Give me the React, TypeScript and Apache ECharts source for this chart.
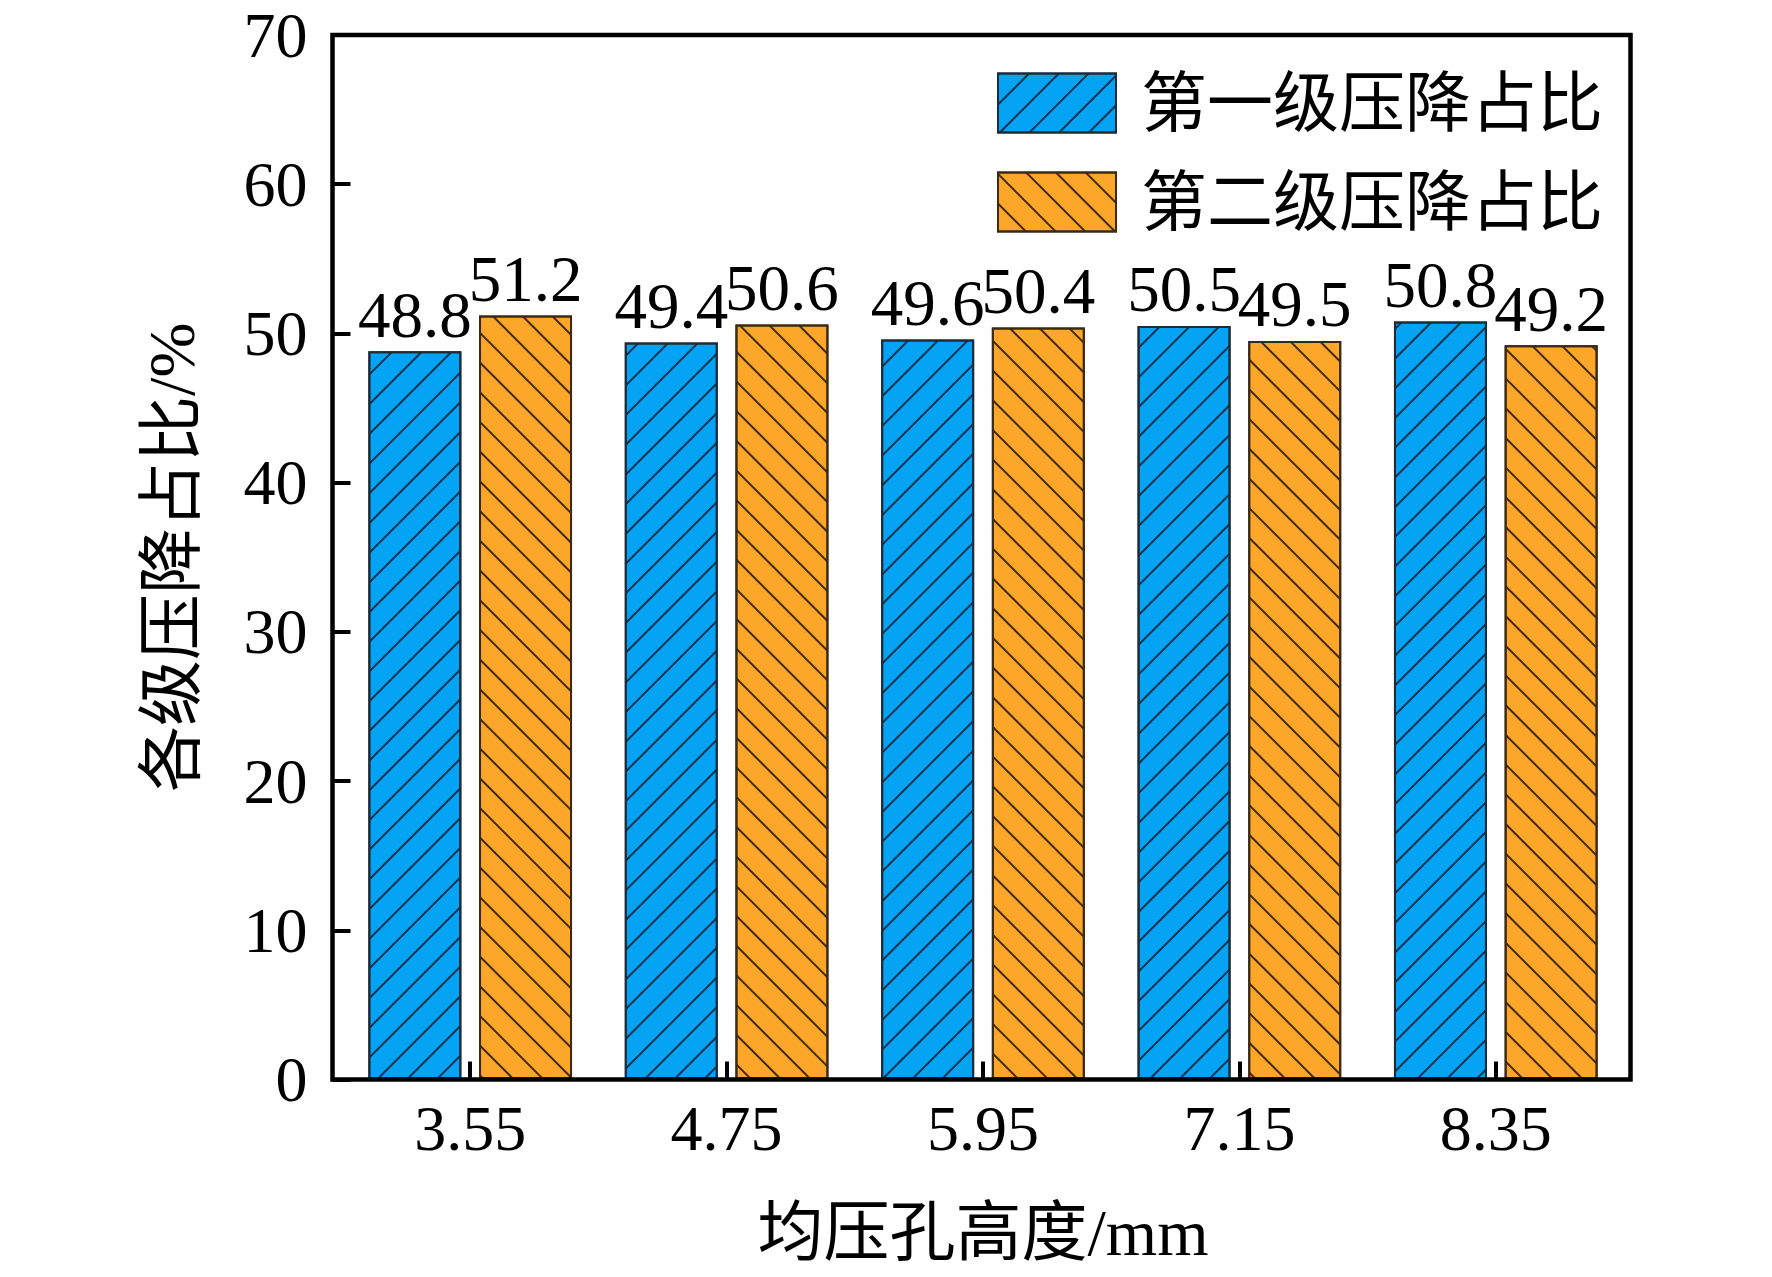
import React, { useEffect, useRef } from "react";
import * as echarts from "echarts";

const categories = ["3.55", "4.75", "5.95", "7.15", "8.35"];
const stage1Name = "第一级压降占比";
const stage2Name = "第二级压降占比";
const stage1Values = [48.8, 49.4, 49.6, 50.5, 50.8];
const stage2Values = [51.2, 50.6, 50.4, 49.5, 49.2];
const yTicks = { min: 0, max: 70, interval: 10 };
const xTitle = "均压孔高度/mm";
const yTitle = "各级压降占比/%";

const W = 1772;
const H = 1277;
const FONT = "'Liberation Serif', 'Times New Roman', 'Noto Sans CJK SC', serif";
const GRID = { left: 342, right: 148, top: 35, bottom: 197.5 };
const FRAME = { x: 332.5, y: 35, w: 1298, h: 1044.5 };

export default function App() {
  const ref = useRef<HTMLDivElement>(null);
  useEffect(() => {
    document.body.style.margin = "0";
    document.body.style.overflow = "hidden";
    if (!ref.current) return;
    const chart = echarts.init(ref.current, null, { renderer: "svg" });
    const label = {
      show: true,
      position: "top",
      distance: 4,
      fontFamily: FONT,
      fontSize: 65,
      color: "#000",
      formatter: (p: any) => Number(p.value).toFixed(1),
    };
    chart.setOption({
      animation: false,
      backgroundColor: "#fff",
      grid: GRID,
      legend: {
        orient: "vertical",
        left: 997,
        top: 70,
        itemWidth: 118,
        itemHeight: 59,
        itemGap: 33,
        padding: 0,
        selectedMode: false,
        icon: "rect",
        textStyle: {
          fontFamily: FONT,
          fontSize: 66,
          color: "#000",
          padding: [0, 0, 0, 20],
        },
        data: [stage1Name, stage2Name],
      },
      xAxis: {
        type: "category",
        data: categories,
        boundaryGap: true,
        name: xTitle,
        nameLocation: "middle",
        nameGap: 120,
        nameTextStyle: { fontFamily: FONT, fontSize: 66, color: "#000" },
        axisLine: { show: false },
        axisTick: {
          show: true,
          inside: true,
          alignWithLabel: true,
          length: 18,
          lineStyle: { color: "#000", width: 4 },
        },
        axisLabel: { fontFamily: FONT, fontSize: 64, color: "#000", margin: 17 },
        splitLine: { show: false },
      },
      yAxis: {
        type: "value",
        min: yTicks.min,
        max: yTicks.max,
        interval: yTicks.interval,
        offset: 9.5,
        name: yTitle,
        nameLocation: "middle",
        nameGap: 128,
        nameRotate: 90,
        nameTextStyle: { fontFamily: FONT, fontSize: 66, color: "#000" },
        axisLine: { show: false },
        axisTick: {
          show: true,
          inside: true,
          length: 18,
          lineStyle: { color: "#000", width: 4 },
        },
        axisLabel: { fontFamily: FONT, fontSize: 64, color: "#000", margin: 25 },
        splitLine: { show: false },
      },
      series: [
        {
          name: stage1Name,
          type: "bar",
          data: stage1Values,
          barWidth: 93,
          barGap: "19%",
          itemStyle: {
            color: "#05A3F4",
            borderColor: "#1d2a38",
            borderWidth: 2,
            decal: {
              symbol: "rect",
              symbolSize: 1,
              dashArrayX: [1, 0],
              dashArrayY: [1.5, 18.5],
              rotation: -Math.PI / 4,
              color: "rgba(18,38,60,0.9)",
            },
          },
          label,
        },
        {
          name: stage2Name,
          type: "bar",
          data: stage2Values,
          barWidth: 93,
          barGap: "19%",
          itemStyle: {
            color: "#FDA72A",
            borderColor: "#3a2a12",
            borderWidth: 2,
            decal: {
              symbol: "rect",
              symbolSize: 1,
              dashArrayX: [1, 0],
              dashArrayY: [1.5, 18.5],
              rotation: Math.PI / 4,
              color: "rgba(45,28,5,0.9)",
            },
          },
          label,
        },
      ],
      graphic: [
        {
          type: "rect",
          z: 100,
          silent: true,
          shape: { x: FRAME.x, y: FRAME.y, width: FRAME.w, height: FRAME.h },
          style: { fill: "none", stroke: "#000", lineWidth: 4.5 },
        },
      ],
    });
    return () => chart.dispose();
  }, []);
  return <div ref={ref} style={{ width: W, height: H }} />;
}
